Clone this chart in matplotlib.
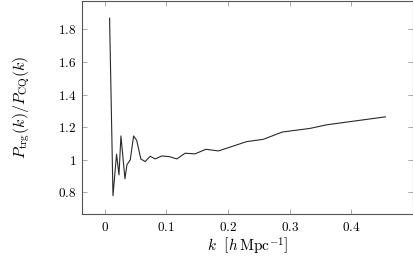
import matplotlib
matplotlib.use("Agg")
import matplotlib.pyplot as plt
import numpy as np

plt.rcParams["mathtext.fontset"] = "cm"
plt.rcParams["font.family"] = "serif"
plt.rcParams["font.serif"] = ["DejaVu Serif"]

# ---- ratio of power spectra ----
k = [0.0081, 0.0136, 0.0194, 0.0233, 0.0265, 0.0330, 0.0362, 0.0416,
     0.0470, 0.0520, 0.0588, 0.0658, 0.0739, 0.0820, 0.0928, 0.1050,
     0.1170, 0.1224, 0.1305, 0.1466, 0.1640, 0.1844, 0.2070, 0.2300,
     0.2570, 0.2880, 0.3326, 0.3595, 0.4080, 0.4550]
ratio = [1.869, 0.780, 1.035, 0.908, 1.147, 0.884, 0.970, 1.000,
         1.147, 1.120, 1.005, 0.990, 1.022, 1.006, 1.024, 1.020,
         1.006, 1.020, 1.041, 1.037, 1.065, 1.055, 1.083, 1.112,
         1.126, 1.171, 1.193, 1.215, 1.240, 1.264]

xticks = [0, 0.1, 0.2, 0.3, 0.4]
yticks = [0.8, 1.0, 1.2, 1.4, 1.6, 1.8]

fig = plt.figure(figsize=(4.14, 2.62), dpi=100)
ax = fig.add_axes([82/414, 1 - 213.5/262, (413 - 82)/414, 213/262])

ax.plot(k, ratio, color="#2a2a2a", linewidth=0.8)

# pgfplots-like 10% enlarged limits
xr = max(k) - min(k)
yr = max(ratio) - min(ratio)
ax.set_xlim(min(k) - 0.1 * xr, max(k) + 0.1 * xr)
ax.set_ylim(min(ratio) - 0.1 * yr, max(ratio) + 0.1 * yr)

ax.set_xticks(xticks)
ax.set_xticklabels(["$%g$" % t for t in xticks])
ax.set_yticks(yticks)
ax.set_yticklabels(["$%g$" % t for t in yticks])

ax.tick_params(direction="in", top=True, right=True, length=3.5,
               width=0.6, color="#999999", labelsize=9.5)
ax.tick_params(axis="x", pad=5.5)
ax.tick_params(axis="y", pad=4)
for s in ax.spines.values():
    s.set_color("#555555")
    s.set_linewidth(0.8)

ax.set_xlabel(r"$k\ \ \left[h\,\mathrm{Mpc}^{-1}\right]$", fontsize=11, labelpad=1)
ax.set_ylabel(r"$P_{\mathrm{trg}}(k)/P_{\mathrm{CQ}}(k)$", fontsize=11.5, labelpad=19)

fig.savefig("out.png", dpi=100)
